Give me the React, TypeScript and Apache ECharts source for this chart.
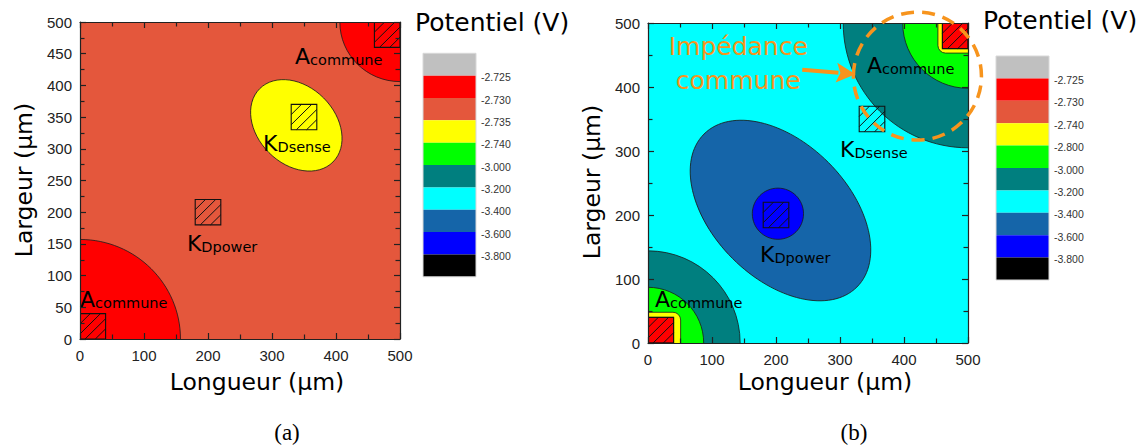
import React, { useEffect, useRef } from 'react';
import * as echarts from 'echarts';

// ---- data ----
const levelColors = ['#C0C0C0', '#FF0000', '#E4573C', '#FFFF00', '#00FF00', '#007F7F', '#00FFFF', '#1565A9', '#0000FF', '#000000'];
const legendLabelsA = ['-2.725', '-2.730', '-2.735', '-2.740', '-3.000', '-3.200', '-3.400', '-3.600', '-3.800'];
const legendLabelsB = ['-2.725', '-2.730', '-2.740', '-2.800', '-3.000', '-3.200', '-3.400', '-3.600', '-3.800'];

// contour regions in µm: [shape, x, y, p1, p2, angle/corner, level]
const regionsA: any[] = [
  ['bg', 0, 0, 500, 500, 0, 2],
  ['circle', 0, 0, 157, 157, 0, 1],
  ['circle', 500, 500, 94, 94, 0, 1],
  ['ellipse', 338, 337, 81, 61, -45, 3],
];
const regionsB: any[] = [
  ['bg', 0, 0, 500, 500, 0, 6],
  ['circle', 500, 500, 195, 195, 0, 5],
  ['circle', 500, 500, 102, 102, 0, 4],
  ['rrect', 453, 453, 520, 520, 12, 3],
  ['rect', 460, 460, 500, 500, 0, 1],
  ['circle', 0, 0, 144, 144, 0, 5],
  ['circle', 0, 0, 87, 87, 0, 4],
  ['rrect', -20, -20, 51, 48, 12, 3],
  ['rect', 0, 0, 40, 40, 0, 1],
  ['ellipse', 207, 207, 169, 106, -45, 7],
  ['circle', 203, 202, 40, 40, 0, 8],
];
// electrode squares [x0, y0, side] µm
const electrodes = [[0, 0, 40], [180, 180, 40], [330, 330, 40], [460, 460, 40]];
// labels [big, subscript, x, y(baseline)] µm
const labelsA: any[] = [['A', 'commune', 0, 50], ['K', 'Dsense', 286, 296], ['K', 'Dpower', 167, 138], ['A', 'commune', 336, 434]];
const labelsB: any[] = [['A', 'commune', 11, 56], ['K', 'Dsense', 300, 291], ['K', 'Dpower', 175, 127], ['A', 'commune', 342, 422]];
// callout on panel b
const calloutRing = [421, 417, 100];
const calloutLines = ['Impédance', 'commune'];
const calloutTextAt = [141, 450];
const calloutArrow = [[241, 427], [324, 420]];

const ORANGE = '#F7941D';
const SANS = 'DejaVu Sans';
const ARIAL = 'Liberation Sans';

function regionRenderer(regions: any[]) {
  return (params: any, api: any) => {
    const [kind, a, b, c, d, e, level] = regions[api.value(2)];
    const style = { fill: levelColors[level], stroke: kind === 'bg' ? null : '#1a1a1a', lineWidth: 0.8 };
    if (kind === 'circle' || kind === 'ellipse') {
      const ctr = api.coord([a, b]);
      const sz = api.size([c, d]);
      return { type: 'ellipse', x: ctr[0], y: ctr[1], rotation: (e * Math.PI) / 180, shape: { cx: 0, cy: 0, rx: sz[0], ry: sz[1] }, style };
    }
    const p0 = api.coord([a, d]);
    const p1 = api.coord([c, b]);
    return {
      type: 'rect',
      shape: { x: p0[0], y: p0[1], width: p1[0] - p0[0], height: p1[1] - p0[1], r: kind === 'rrect' ? api.size([e, e])[0] : 0 },
      style,
    };
  };
}

function electrodeRenderer(params: any, api: any) {
  const [x0, y0, s] = electrodes[api.value(2)];
  const tl = api.coord([x0, y0 + s]);
  const br = api.coord([x0 + s, y0]);
  const w = br[0] - tl[0];
  const h = br[1] - tl[1];
  const children: any[] = [
    { type: 'rect', shape: { x: tl[0], y: tl[1], width: w, height: h }, style: { fill: 'none', stroke: '#111', lineWidth: 1.1 } },
  ];
  [0.4, 0.8, 1.2, 1.6].forEach((f) => {
    let x1, y1, x2, y2;
    if (f <= 1) {
      x1 = tl[0]; y1 = tl[1] + f * h; x2 = tl[0] + f * w; y2 = tl[1];
    } else {
      x1 = tl[0] + (f - 1) * w; y1 = tl[1] + h; x2 = tl[0] + w; y2 = tl[1] + (f - 1) * h;
    }
    children.push({ type: 'line', shape: { x1, y1, x2, y2 }, style: { stroke: '#111', lineWidth: 1 } });
  });
  return { type: 'group', children };
}

function labelRenderer(labels: any[]) {
  return (params: any, api: any) => {
    const [big, sub, x, y] = labels[api.value(2)];
    const p = api.coord([x, y]);
    return {
      type: 'text',
      x: p[0],
      y: p[1] + 3.4,
      style: {
        text: `{b|${big}}{s|${sub}}`,
        align: 'left',
        verticalAlign: 'bottom',
        rich: {
          b: { fontSize: 22, fontFamily: SANS, lineHeight: 22, verticalAlign: 'bottom', fill: '#000' },
          s: { fontSize: 14.5, fontFamily: SANS, lineHeight: 16.8, verticalAlign: 'bottom', fill: '#000' },
        },
      },
    };
  };
}

function calloutRenderer(params: any, api: any) {
  const c = api.coord([calloutRing[0], calloutRing[1]]);
  const r = api.size([calloutRing[2], calloutRing[2]]);
  const t = api.coord(calloutTextAt);
  const a0 = api.coord(calloutArrow[0]);
  const a1 = api.coord(calloutArrow[1]);
  const dx = a1[0] - a0[0];
  const dy = a1[1] - a0[1];
  const len = Math.sqrt(dx * dx + dy * dy);
  const ux = dx / len, uy = dy / len;
  const head = 19, half = 10;
  const bx = a1[0] - ux * head, by = a1[1] - uy * head;
  return {
    type: 'group',
    children: [
      { type: 'ellipse', shape: { cx: c[0], cy: c[1], rx: r[0], ry: r[1] }, style: { fill: 'none', stroke: ORANGE, lineWidth: 3.5, lineDash: [13, 8] } },
      { type: 'text', x: t[0], y: t[1] - 8.7, style: { text: calloutLines[0], fill: ORANGE, font: `25px "${SANS}"`, align: 'center', verticalAlign: 'middle' } },
      { type: 'text', x: t[0], y: t[1] - 8.7 + 34, style: { text: calloutLines[1], fill: ORANGE, font: `25px "${SANS}"`, align: 'center', verticalAlign: 'middle' } },
      { type: 'line', shape: { x1: a0[0], y1: a0[1], x2: bx + ux * 2, y2: by + uy * 2 }, style: { stroke: ORANGE, lineWidth: 4 } },
      { type: 'polygon', shape: { points: [[a1[0], a1[1]], [bx - uy * half, by + ux * half], [bx + ux * 4, by + uy * 4], [bx + uy * half, by - ux * half]] }, style: { fill: ORANGE } },
    ],
  };
}

function legendGraphic(x: number, top: number, bandH: number, labels: string[]) {
  const children: any[] = [];
  levelColors.forEach((col, i) => {
    children.push({ type: 'rect', shape: { x, y: top + i * bandH, width: 53, height: bandH }, style: { fill: col, stroke: null } });
  });
  children.push({ type: 'rect', shape: { x, y: top, width: 53, height: bandH * levelColors.length }, style: { fill: 'none', stroke: '#d8d8d8', lineWidth: 1 } });
  labels.forEach((lab, i) => {
    children.push({
      type: 'text', x: x + 58, y: top + (i + 1) * bandH + 1.5,
      style: { text: lab, fill: '#333', font: `10.5px "${ARIAL}"`, align: 'left', verticalAlign: 'middle' },
    });
  });
  return { type: 'group', children };
}

function axesFor(gridIndex: number, yInterval: number) {
  const mk = (position: string, interval: number, showLabel: boolean, margin: number) => ({
    gridIndex, type: 'value', min: 0, max: 500, z: 20, position, interval,
    axisLine: { show: true, onZero: false, lineStyle: { color: '#222', width: 1.2 } },
    splitLine: { show: false },
    axisTick: { show: true, inside: true, length: 6, lineStyle: { color: '#222', width: 1.2 } },
    minorTick: { show: true, splitNumber: 2, length: 4.5, lineStyle: { color: '#222', width: 1.2 } },
    axisLabel: showLabel ? { show: true, fontFamily: ARIAL, fontSize: 15, color: '#222', margin } : { show: false },
  });
  return {
    x: [mk('bottom', 100, true, 9), mk('top', 100, false, 0)],
    y: [mk('left', yInterval, true, 8), mk('right', yInterval, false, 0)],
  };
}

export default function App() {
  const ref = useRef<HTMLDivElement>(null);
  useEffect(() => {
    if (!ref.current) return;
    const chart = echarts.init(ref.current, undefined, { renderer: 'svg' });
    const aAx = axesFor(0, 50);
    const bAx = axesFor(1, 100);
    const idxData = (arr: any[]) => arr.map((_, i) => [250, 250, i]);
    const titleStyle = { fill: '#000', font: `25px "${SANS}"`, align: 'left', verticalAlign: 'middle' };
    const nameStyle = { fill: '#000', font: `23.5px "${SANS}"`, align: 'center', verticalAlign: 'middle' };
    const capStyle = { fill: '#000', font: `23px "Liberation Serif"`, align: 'center', verticalAlign: 'middle' };
    chart.setOption({
      animation: false,
      backgroundColor: '#fff',
      grid: [
        { left: 80, top: 22, width: 320, height: 317 },
        { left: 648, top: 23, width: 320, height: 320 },
      ],
      xAxis: [...aAx.x, ...bAx.x],
      yAxis: [...aAx.y, ...bAx.y],
      series: [
        { type: 'custom', xAxisIndex: 0, yAxisIndex: 0, clip: true, renderItem: regionRenderer(regionsA), data: idxData(regionsA), encode: { x: 0, y: 1 }, z: 1 },
        { type: 'custom', xAxisIndex: 0, yAxisIndex: 0, clip: true, renderItem: electrodeRenderer, data: idxData(electrodes), encode: { x: 0, y: 1 }, z: 2 },
        { type: 'custom', xAxisIndex: 0, yAxisIndex: 0, clip: false, renderItem: labelRenderer(labelsA), data: idxData(labelsA), encode: { x: 0, y: 1 }, z: 3 },
        { type: 'custom', xAxisIndex: 2, yAxisIndex: 2, clip: true, renderItem: regionRenderer(regionsB), data: idxData(regionsB), encode: { x: 0, y: 1 }, z: 1 },
        { type: 'custom', xAxisIndex: 2, yAxisIndex: 2, clip: true, renderItem: electrodeRenderer, data: idxData(electrodes), encode: { x: 0, y: 1 }, z: 2 },
        { type: 'custom', xAxisIndex: 2, yAxisIndex: 2, clip: false, renderItem: labelRenderer(labelsB), data: idxData(labelsB), encode: { x: 0, y: 1 }, z: 3 },
        { type: 'custom', xAxisIndex: 2, yAxisIndex: 2, clip: false, renderItem: calloutRenderer, data: [[250, 250, 0]], encode: { x: 0, y: 1 }, z: 30 },
      ],
      graphic: [
        legendGraphic(423, 53.3, 22.35, legendLabelsA),
        legendGraphic(996, 56, 22.4, legendLabelsB),
        { type: 'text', x: 415, y: 22, style: { ...titleStyle, text: 'Potentiel (V)' } },
        { type: 'text', x: 983, y: 20, style: { ...titleStyle, text: 'Potentiel (V)' } },
        { type: 'text', x: 257, y: 382, style: { ...nameStyle, text: 'Longueur (µm)' } },
        { type: 'text', x: 825, y: 382, style: { ...nameStyle, text: 'Longueur (µm)' } },
        { type: 'text', x: 23.5, y: 180, rotation: Math.PI / 2, style: { ...nameStyle, text: 'Largeur (µm)' } },
        { type: 'text', x: 592, y: 182, rotation: Math.PI / 2, style: { ...nameStyle, text: 'Largeur (µm)' } },
        { type: 'text', x: 287, y: 432, style: { ...capStyle, text: '(a)' } },
        { type: 'text', x: 854, y: 432, style: { ...capStyle, text: '(b)' } },
      ],
    });
    return () => chart.dispose();
  }, []);
  return <div ref={ref} style={{ position: 'fixed', left: 0, top: 0, width: 1145, height: 447, background: '#fff' }} />;
}
